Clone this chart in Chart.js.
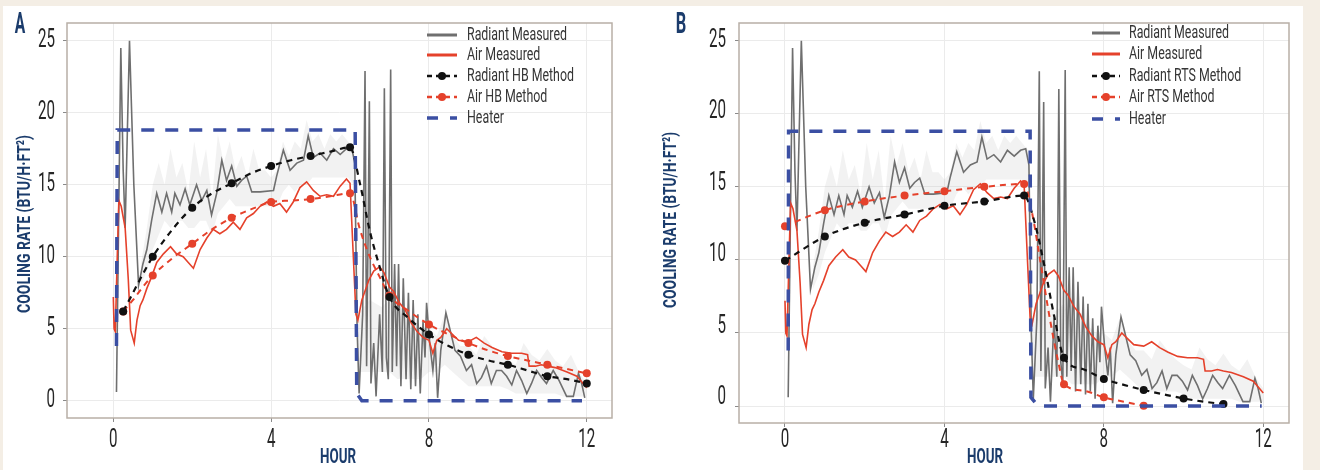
<!DOCTYPE html>
<html>
<head>
<meta charset="utf-8">
<script src="https://cdn.jsdelivr.net/npm/chart.js@4.4.1/dist/chart.umd.min.js"></script>
<style>
html, body { margin: 0; padding: 0; background: #f4eee5; width: 1320px; height: 470px; overflow: hidden; }
#page { position: absolute; left: 3px; top: 6px; width: 1300px; height: 470px; background: #ffffff; }
.panel { position: absolute; top: 0; width: 660px; height: 470px; }
</style>
</head>
<body>
<div id="page"></div>
<div class="panel" style="left:0px"><canvas id="chartA" width="660" height="470"></canvas></div>
<div class="panel" style="left:660px"><canvas id="chartB" width="660" height="470"></canvas></div>
<script>
// ticks
const xTicks = [0, 4, 8, 12];
const yTicks = [0, 5, 10, 15, 20, 25];

// measured data (same test run in both panels)
const radMeasHours = [0.08, 0.19, 0.25, 0.30, 0.35, 0.41, 0.52, 0.64, 0.75, 0.85, 0.97, 1.10, 1.23, 1.35, 1.48, 1.56, 1.69, 1.82, 1.94, 2.11, 2.24, 2.37, 2.49, 2.62, 2.75, 2.87, 3.00, 3.13, 3.25, 3.38, 3.51, 3.72, 4.06, 4.14, 4.31, 4.48, 4.65, 4.82, 4.94, 5.07, 5.24, 5.41, 5.58, 5.75, 5.91, 6.04, 6.12, 6.18, 6.23, 6.32, 6.38, 6.42, 6.46, 6.49, 6.53, 6.60, 6.66, 6.75, 6.82, 6.87, 6.92, 6.97, 7.03, 7.07, 7.13, 7.18, 7.23, 7.29, 7.35, 7.42, 7.48, 7.54, 7.60, 7.66, 7.72, 7.78, 7.85, 7.90, 7.94, 8.02, 8.10, 8.16, 8.22, 8.30, 8.43, 8.52, 8.66, 8.80, 8.95, 9.08, 9.21, 9.33, 9.46, 9.58, 9.71, 9.84, 9.97, 10.10, 10.22, 10.35, 10.48, 10.60, 10.73, 10.86, 10.98, 11.15, 11.30, 11.49, 11.66, 11.79, 11.87, 11.95];
const radMeasVals = [0.6, 24.5, 16, 12, 18, 25.0, 15, 8.0, 9.5, 10.5, 12.5, 14.4, 13.1, 14.4, 13.1, 14.4, 13.6, 14.7, 13.6, 15.0, 13.9, 14.6, 12.9, 14.4, 16.7, 15.3, 16.3, 14.9, 15.3, 15.6, 14.5, 14.5, 14.6, 15.6, 17.4, 16.0, 16.5, 16.7, 18.4, 16.9, 17.2, 16.7, 17.5, 17.1, 17.5, 17.6, 16.5, 5, 0.5, 6, 22.9, 2.4, 12, 20.8, 1.2, 4, 0.3, 6, 2, 21.7, 3, 1.5, 23.0, 2.0, 9.5, 2.4, 9.5, 1.0, 8.5, 1.5, 7.5, 0.8, 7.0, 1.0, 6.0, 0.5, 5.5, 3.0, 6.8, 4.0, 2.1, 4.0, 0.2, 3.5, 6.1, 5.1, 3.5, 3.1, 2.1, 2.5, 1.2, 1.6, 2.4, 1.2, 2.1, 2.1, 1.7, 1.1, 2.1, 1.4, 0.5, 1.2, 2.1, 1.6, 1.2, 2.1, 1.4, 0.3, 0.3, 1.9, 1.2, 0.2];

const airMeasHours = [0.00, 0.02, 0.05, 0.10, 0.14, 0.20, 0.30, 0.38, 0.44, 0.53, 0.60, 0.68, 0.75, 0.85, 0.97, 1.10, 1.27, 1.45, 1.60, 1.77, 1.90, 2.03, 2.20, 2.37, 2.53, 2.70, 2.87, 3.04, 3.21, 3.38, 3.55, 3.72, 3.89, 4.06, 4.22, 4.39, 4.56, 4.73, 4.90, 5.07, 5.24, 5.41, 5.58, 5.75, 5.91, 6.00, 6.08, 6.15, 6.20, 6.30, 6.48, 6.60, 6.75, 6.86, 7.00, 7.10, 7.25, 7.40, 7.55, 7.70, 7.85, 8.00, 8.10, 8.20, 8.30, 8.45, 8.60, 8.75, 9.00, 9.20, 9.40, 9.60, 9.85, 10.10, 10.35, 10.50, 10.54, 10.70, 10.85, 11.00, 11.20, 11.50, 11.75, 12.00];
const airMeasVals = [7.2, 5.0, 4.8, 10, 13.9, 13.5, 12.0, 8.4, 4.9, 4.0, 5.6, 6.6, 7.0, 7.8, 8.6, 9.6, 10.2, 10.7, 10.2, 10.0, 9.6, 9.2, 10.5, 11.3, 11.9, 11.6, 11.9, 12.4, 11.9, 12.7, 13.0, 13.5, 13.8, 13.5, 13.7, 13.1, 13.8, 14.8, 15.2, 14.6, 14.2, 14.3, 14.2, 14.9, 15.4, 15.1, 10.2, 6.0, 5.6, 7.0, 8.4, 9.0, 9.3, 8.9, 7.9, 7.6, 6.8, 6.3, 5.4, 4.8, 4.4, 4.2, 3.3, 4.2, 4.4, 5.0, 4.6, 4.2, 4.1, 4.4, 4.0, 3.7, 3.4, 3.3, 3.3, 3.2, 2.4, 2.4, 2.5, 2.4, 2.3, 2.0, 1.7, 0.9];

// light grey spread around the measured radiant rate
const bandHours = [0.70, 0.85, 1.00, 1.15, 1.30, 1.45, 1.60, 1.75, 1.90, 2.05, 2.20, 2.35, 2.50, 2.65, 2.80, 2.95, 3.10, 3.25, 3.40, 3.55, 3.70, 3.85, 4.00, 4.15, 4.30, 4.45, 4.60, 4.75, 4.90, 5.05, 5.20, 5.35, 5.50, 5.65, 5.80, 5.95, 6.10, 6.20, 6.50, 6.80, 7.00, 7.20, 7.40, 7.60, 7.80, 8.00, 8.20, 8.40, 8.60, 8.80, 9.00, 9.20, 9.40, 9.60, 9.80, 10.00, 10.20, 10.40, 10.60, 10.80, 11.00, 11.20, 11.40, 11.60, 11.80, 12.00];
const bandLow = [8, 9, 10.5, 11.5, 12.5, 12, 12.5, 12.5, 12, 12, 12.5, 12.5, 11.5, 13, 13.5, 14, 13.5, 13.5, 13.5, 13.5, 13.5, 13.5, 13.5, 13.5, 14.5, 15, 14.5, 15, 15, 15.5, 15.5, 15.5, 15.5, 15.5, 15.5, 15.5, 15, 2, 2, 2, 2, 1.5, 1.5, 1.5, 1.5, 2, 2, 2.5, 2, 1.5, 1, 1, 1, 1, 1, 0.8, 0.5, 0.5, 0.5, 0.5, 0.5, 0.5, 0.3, 0.3, 0.3, 0.3];
const bandHigh = [9.5, 12, 15, 16.5, 15, 17.5, 15.5, 16.5, 14.5, 18, 15.5, 17.5, 14, 18.5, 16.5, 18, 16, 17, 15.5, 17.5, 16, 16, 15.5, 16, 18, 17, 18, 17.5, 19.5, 18, 18.5, 17.5, 18.5, 18, 18.5, 18, 17.5, 6, 7, 6.5, 7, 5.5, 6.5, 5.5, 5, 5, 4.5, 6, 4.5, 3.8, 3.8, 3.2, 4.5, 3.8, 3.2, 2.8, 2.5, 4, 3.2, 2.8, 3.6, 2.8, 2.4, 3.2, 2, 1.2];

// heater input
const heaterHoursA = [0.08, 0.10, 6.13, 6.17, 6.30, 11.88];
const heaterValsA = [3.8, 18.8, 18.8, 0.5, 0, 0];
const heaterHoursB = [0.08, 0.09, 6.15, 6.17, 6.35, 11.96];
const heaterValsB = [3.8, 18.8, 18.8, 0.6, 0, 0];

// panel A: heat balance method
const hbHours = [0.25, 0.5, 0.75, 1, 1.5, 2, 2.5, 3, 3.5, 4, 4.5, 5, 5.5, 6, 6.25, 6.5, 6.75, 7, 7.5, 8, 8.5, 9, 9.5, 10, 10.5, 11, 11.5, 12];
const radHbVals = [6.2, 7.5, 8.8, 10.0, 11.9, 13.4, 14.4, 15.1, 15.8, 16.3, 16.7, 17.0, 17.3, 17.6, 15.1, 11.8, 9.3, 7.2, 5.7, 4.6, 3.8, 3.2, 2.8, 2.5, 2.1, 1.7, 1.5, 1.2];
const airHbVals = [6.2, 7.0, 7.9, 8.7, 9.9, 10.9, 11.9, 12.7, 13.3, 13.8, 13.9, 14.0, 14.2, 14.4, 11.9, 10.0, 8.6, 7.3, 6.2, 5.3, 4.6, 4.0, 3.5, 3.1, 2.8, 2.5, 2.2, 1.9];
const hbMarks = [0.25, 1, 2, 3, 4, 5, 6, 7, 8, 9, 10, 11, 12];

// panel B: radiant time series method
const rtsRadHours = [0, 1, 2, 3, 4, 5, 6, 6.25, 6.5, 6.75, 7, 7.5, 8, 8.5, 9, 9.5, 10, 10.5, 11];
const rtsRadVals = [9.95, 11.6, 12.55, 13.1, 13.7, 14.0, 14.4, 12.7, 9.7, 6.2, 3.3, 2.5, 1.85, 1.45, 1.1, 0.8, 0.52, 0.3, 0.14];
const rtsRadMarks = [0, 1, 2, 3, 4, 5, 6, 7, 8, 9, 10, 11];
const rtsAirHours = [0, 1, 2, 3, 4, 5, 6, 6.2, 6.4, 6.65, 6.85, 7, 7.5, 8, 8.5, 9];
const rtsAirVals = [12.3, 13.4, 14.0, 14.4, 14.7, 15.0, 15.2, 13.2, 10.0, 5.9, 3.1, 1.5, 1.05, 0.6, 0.3, 0.02];
const rtsAirMarks = [0, 1, 2, 3, 4, 5, 6, 7, 8, 9];

const GREY = '#6f6f6f', RED = '#e5412b', BLACK = '#111111', BLUE = '#3b4fa3', NAVY = '#1b3c6c';

function pts(xs, ys) {
    return xs.map((x, i) => ({ x: x, y: ys[i] }));
}

function markRadius(marks) {
    return c => (c.raw && marks.includes(c.raw.x)) ? 4 : 0;
}

function condText(ctx, txt, x, y, font, color, sx, align, rot) {
    ctx.save();
    ctx.font = font;
    ctx.fillStyle = color;
    ctx.textBaseline = 'middle';
    ctx.textAlign = align;
    ctx.translate(x, y);
    if (rot) ctx.rotate(rot);
    ctx.scale(sx, 1);
    ctx.fillText(txt, 0, 0);
    ctx.restore();
}

function widthOf(ctx, txt, font) {
    ctx.save();
    ctx.font = font;
    const w = ctx.measureText(txt).width;
    ctx.restore();
    return w;
}

// draws border, tick labels, titles and legend
const panelText = {
    id: 'panelText',
    afterDraw(chart, args, o) {
        const ctx = chart.ctx;
        const a = chart.chartArea;
        const xs = chart.scales.x, ys = chart.scales.y;

        ctx.save();
        ctx.strokeStyle = '#b8afa6';
        ctx.lineWidth = 1.5;
        ctx.strokeRect(a.left, a.top, a.right - a.left, a.bottom - a.top);
        ctx.restore();

        const tickFont = '400 25px Roboto';
        const tsx = 17 / widthOf(ctx, '25', tickFont);
        const top25 = ys.getPixelForValue(25);
        yTicks.forEach(v => {
            const py = top25 + (ys.getPixelForValue(v) - top25) * o.squeeze;
            condText(ctx, String(v), a.left - o.labGap, py, tickFont, '#262626', tsx, 'right');
        });
        xTicks.forEach(v => {
            condText(ctx, String(v), xs.getPixelForValue(v), 441, tickFont, '#262626', tsx, 'center');
        });

        // titles
        const yFont = '700 19px Roboto';
        const yTxt = 'COOLING RATE (BTU/H\u00b7FT\u00b2)';
        condText(ctx, yTxt, o.yTitleX, o.yTitleY, yFont, NAVY, o.yTitleLen / widthOf(ctx, yTxt, yFont), 'center', -Math.PI / 2);
        const hFont = '700 21px Roboto';
        condText(ctx, 'HOUR', o.hourX, 458, hFont, NAVY, 36 / widthOf(ctx, 'HOUR', hFont), 'center');
        const lFont = '700 30px Roboto';
        condText(ctx, o.letter, o.letterX, 25, lFont, NAVY, 10.5 / widthOf(ctx, o.letter, lFont), 'center');

        // legend
        const legFont = '400 18px Roboto';
        const lsx = 100 / widthOf(ctx, 'Radiant Measured', legFont);
        o.legend.forEach((it, i) => {
            const y = o.legRows[i];
            ctx.save();
            ctx.beginPath();
            ctx.rect(o.legX0 - 1, y - 6, o.legX1 - o.legX0 + 2, 12);
            ctx.clip();
            ctx.strokeStyle = it.color;
            ctx.lineWidth = it.width;
            ctx.setLineDash(it.dash);
            ctx.beginPath();
            ctx.moveTo(o.legX0, y);
            ctx.lineTo(o.legX1, y);
            ctx.stroke();
            if (it.dot) {
                ctx.setLineDash([]);
                ctx.fillStyle = it.color;
                ctx.beginPath();
                ctx.arc((o.legX0 + o.legX1) / 2, y, 4, 0, Math.PI * 2);
                ctx.fill();
            }
            ctx.restore();
            condText(ctx, it.label, o.legText, y, legFont, '#353535', lsx, 'left');
        });
    }
};

function buildPanel(id, cfg) {
    const datasets = [
        { data: pts(cfg.heaterHours, cfg.heaterVals), borderColor: BLUE, borderWidth: 3.5, borderDash: [13, 11], pointRadius: 0, fill: false },
        { data: pts(cfg.radMethHours, cfg.radMethVals), borderColor: BLACK, borderWidth: 2.2, borderDash: [6, 5], cubicInterpolationMode: 'monotone',
          pointRadius: markRadius(cfg.radMarks), pointBackgroundColor: BLACK, pointBorderWidth: 0, fill: false },
        { data: pts(cfg.airMethHours, cfg.airMethVals), borderColor: RED, borderWidth: 2, borderDash: [6, 5], cubicInterpolationMode: 'monotone',
          pointRadius: markRadius(cfg.airMarks), pointBackgroundColor: RED, pointBorderWidth: 0, fill: false },
        { data: pts(airMeasHours, airMeasVals), borderColor: RED, borderWidth: 1.6, pointRadius: 0, fill: false },
        { data: pts(radMeasHours, radMeasVals), borderColor: GREY, borderWidth: 1.6, pointRadius: 0, fill: false },
        { data: pts(bandHours, bandLow), borderColor: 'rgba(0,0,0,0)', borderWidth: 0, pointRadius: 0, fill: false },
        { data: pts(bandHours, bandHigh), borderColor: 'rgba(0,0,0,0)', borderWidth: 0, pointRadius: 0,
          backgroundColor: 'rgba(195,195,195,0.22)', fill: 5 }
    ];
    return new Chart(document.getElementById(id), {
        type: 'line',
        data: { datasets: datasets },
        options: {
            responsive: false,
            animation: false,
            events: [],
            devicePixelRatio: 1,
            layout: { padding: { left: 0, top: cfg.top, right: cfg.padRight, bottom: 0 } },
            scales: {
                x: {
                    type: 'linear', min: cfg.xMin, max: cfg.xMax,
                    afterBuildTicks: s => { s.ticks = xTicks.map(v => ({ value: v })); },
                    afterFit: s => { s.height = cfg.xAxisH; },
                    ticks: { display: false },
                    border: { display: false },
                    grid: { color: '#ebebeb', lineWidth: 1, tickColor: '#8a8a8a', tickLength: 4 }
                },
                y: {
                    type: 'linear', min: cfg.yMin, max: cfg.yMax,
                    afterBuildTicks: s => { s.ticks = yTicks.map(v => ({ value: v })); },
                    afterFit: s => { s.width = cfg.yAxisW; },
                    ticks: { display: false },
                    border: { display: false },
                    grid: { color: '#ebebeb', lineWidth: 1, tickColor: '#8a8a8a', tickLength: 4 }
                }
            },
            plugins: {
                legend: { display: false },
                tooltip: { enabled: false },
                panelText: cfg.text
            }
        },
        plugins: [panelText]
    });
}

buildPanel('chartA', {
    heaterHours: heaterHoursA, heaterVals: heaterValsA,
    radMethHours: hbHours, radMethVals: radHbVals, radMarks: hbMarks,
    airMethHours: hbHours, airMethVals: airHbVals, airMarks: hbMarks,
    top: 23, padRight: 48, xAxisH: 52, yAxisW: 67,
    xMin: -1.174, xMax: 12.64, yMin: -1.20, yMax: 26.23,
    text: {
        squeeze: 1, labGap: 12, yTitleX: 25, yTitleY: 224, yTitleLen: 178, hourX: 338,
        letter: 'A', letterX: 20,
        legX0: 427, legX1: 457, legText: 467, legRows: [35, 55, 76, 97, 118],
        legend: [
            { label: 'Radiant Measured', color: GREY, width: 3, dash: [] },
            { label: 'Air Measured', color: RED, width: 3, dash: [] },
            { label: 'Radiant HB Method', color: BLACK, width: 2.5, dash: [5, 4], dot: true },
            { label: 'Air HB Method', color: RED, width: 2.5, dash: [5, 4], dot: true },
            { label: 'Heater', color: BLUE, width: 3.5, dash: [11, 12] }
        ]
    }
});

buildPanel('chartB', {
    heaterHours: heaterHoursB, heaterVals: heaterValsB,
    radMethHours: rtsRadHours, radMethVals: rtsRadVals, radMarks: rtsRadMarks,
    airMethHours: rtsAirHours, airMethVals: rtsAirVals, airMarks: rtsAirMarks,
    top: 23, padRight: 31, xAxisH: 47, yAxisW: 79,
    xMin: -1.154, xMax: 12.645, yMin: -1.16, yMax: 26.21,
    text: {
        squeeze: 0.978, labGap: 13, yTitleX: 11, yTitleY: 220, yTitleLen: 176, hourX: 325,
        letter: 'B', letterX: 21,
        legX0: 432, legX1: 460, legText: 469, legRows: [33, 54, 76, 97, 119],
        legend: [
            { label: 'Radiant Measured', color: GREY, width: 3, dash: [] },
            { label: 'Air Measured', color: RED, width: 3, dash: [] },
            { label: 'Radiant RTS Method', color: BLACK, width: 2.5, dash: [5, 4], dot: true },
            { label: 'Air RTS Method', color: RED, width: 2.5, dash: [5, 4], dot: true },
            { label: 'Heater', color: BLUE, width: 3.5, dash: [11, 12] }
        ]
    }
});
</script>
</body>
</html>
